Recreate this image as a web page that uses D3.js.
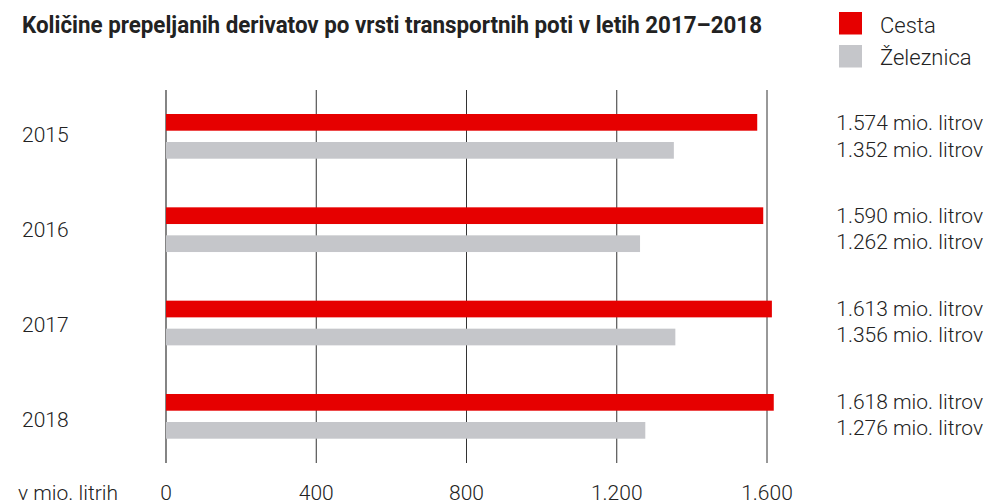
<!DOCTYPE html>
<html>
<head>
<meta charset="utf-8">
<script src="https://cdn.jsdelivr.net/npm/d3@7"></script>
<style>
  html, body { margin: 0; padding: 0; background: #fff; }
  svg { display: block; }
  .lbl { font-family: Roboto, "Liberation Sans", sans-serif; font-weight: 300; fill: #222; }
</style>
</head>
<body>
<svg id="chart" width="988" height="504"></svg>
<script>
// Quantities transported by transport route (million litres)
const years = ["2015", "2016", "2017", "2018"];
const road = [1574, 1590, 1613, 1618];
const rail = [1352, 1262, 1356, 1276];
const seriesNames = ["Cesta", "Železnica"];
const seriesColors = ["#e60000", "#c5c6ca"];
const tickValues = [0, 400, 800, 1200, 1600];
const tickLabels = ["0", "400", "800", "1.200", "1.600"];
const unitLabel = "v mio. litrih";
const titleText = "Količine prepeljanih derivatov po vrsti transportnih poti v letih 2017–2018";

const fmt = v => d3.format(",")(v).replace(/,/g, ".") + " mio. litrov";

const svg = d3.select("#chart");

const x = d3.scaleLinear().domain([0, 1600]).range([166, 767]);
const band = d3.scaleBand().domain(years).range([88, 461.33]).paddingInner(0).paddingOuter(0);
const yearY = d3.scalePoint().domain(years).range([142, 427]);
const valueY = d3.scalePoint().domain(years).range([130, 408.5]);
const barH = 16.7;

// Title (condensed bold)
svg.append("text")
  .attr("x", 22).attr("y", 33)
  .attr("textLength", 740).attr("lengthAdjust", "spacingAndGlyphs")
  .style("font-family", "Roboto, 'Liberation Sans', sans-serif")
  .style("font-weight", 700).style("font-size", "24px").style("fill", "#222")
  .text(titleText);

// Legend
const legend = svg.append("g");
seriesNames.forEach((name, i) => {
  legend.append("rect")
    .attr("x", 839).attr("y", 12 + i * 33).attr("width", 23).attr("height", 22.5)
    .attr("fill", seriesColors[i]);
  legend.append("text").attr("class", "lbl")
    .attr("x", 880).attr("y", 33 + i * 32)
    .style("font-size", "22px")
    .text(name);
});

// Gridlines
svg.append("g")
  .selectAll("line").data(tickValues).join("line")
  .attr("x1", d => x(d)).attr("x2", d => x(d))
  .attr("y1", 90).attr("y2", 463)
  .attr("stroke", d => d === 0 ? "#666" : "#333")
  .attr("stroke-width", d => d === 0 ? 1.6 : 1);

// Bars
const rows = svg.append("g").selectAll("g").data(years).join("g");

rows.append("rect")
  .attr("x", x(0)).attr("y", d => band(d) + 26)
  .attr("width", (d, i) => x(road[i]) - x(0)).attr("height", barH)
  .attr("fill", seriesColors[0]);
rows.append("rect")
  .attr("x", x(0)).attr("y", d => band(d) + 54)
  .attr("width", (d, i) => x(rail[i]) - x(0)).attr("height", barH)
  .attr("fill", seriesColors[1]);

// Year labels
rows.append("text").attr("class", "lbl")
  .attr("x", 22).attr("y", d => yearY(d))
  .style("font-size", "21px")
  .text(d => d);

// Value labels
rows.append("text").attr("class", "lbl")
  .attr("x", 983).attr("y", d => valueY(d)).attr("text-anchor", "end")
  .style("font-size", "21px")
  .text((d, i) => fmt(road[i]));
rows.append("text").attr("class", "lbl")
  .attr("x", 983).attr("y", d => valueY(d) + 26.5).attr("text-anchor", "end")
  .style("font-size", "21px")
  .text((d, i) => fmt(rail[i]));

// Axis labels
svg.append("g").selectAll("text").data(tickValues).join("text")
  .attr("class", "lbl")
  .attr("x", d => x(d)).attr("y", 500).attr("text-anchor", "middle")
  .style("font-size", "21px")
  .text((d, i) => tickLabels[i]);

svg.append("text").attr("class", "lbl")
  .attr("x", 18).attr("y", 500)
  .style("font-size", "21px")
  .text(unitLabel);
</script>
</body>
</html>
